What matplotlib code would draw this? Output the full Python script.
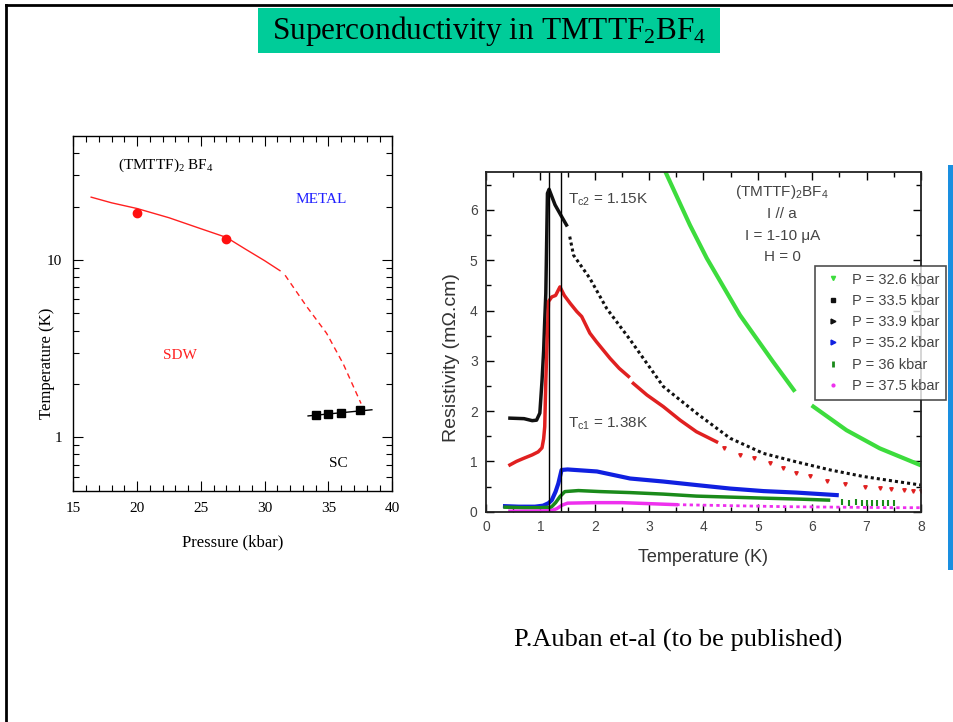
import numpy as np
import matplotlib
matplotlib.use('Agg')
import matplotlib.pyplot as plt
from matplotlib.patches import Rectangle
from matplotlib.lines import Line2D
from matplotlib.ticker import MultipleLocator, FixedLocator, NullFormatter, FixedFormatter

plt.rcParams['mathtext.fontset'] = 'custom'
plt.rcParams['mathtext.rm'] = 'Liberation Serif'
plt.rcParams['mathtext.it'] = 'Liberation Serif:italic'
plt.rcParams['mathtext.sf'] = 'Liberation Sans'

nan = np.nan

# --- phase diagram (TMTTF)2BF4 ---
sdw_P = [16.4, 18.0, 20.0, 22.5, 25.0, 27.0, 28.5, 30.0, 31.2]
sdw_T = [22.6, 21.0, 19.5, 17.3, 15.0, 13.4, 11.5, 9.9, 8.7]
sdw_dash_P = [31.6, 33.3, 34.85, 36.15, 37.55]
sdw_dash_T = [8.2, 5.45, 3.86, 2.6, 1.55]
sdw_pts_P = [20.0, 27.0]
sdw_pts_T = [18.5, 13.1]
sc_P = [34.0, 35.0, 36.0, 37.5]
sc_T = [1.33, 1.35, 1.37, 1.42]
sc_fit_P = [33.4, 38.4]
sc_fit_T = [1.32, 1.43]

# --- resistivity vs temperature ---
g326_T = [3.29, 3.75, 4.06, 4.67, 5.28, 5.66, nan, 6.02, 6.63, 7.24, 7.98]
g326_R = [6.78, 5.70, 5.04, 3.91, 2.98, 2.42, nan, 2.09, 1.62, 1.26, 0.93]

k335_T = [0.44, 0.70, 0.85, 0.93, 0.99, 1.03, 1.06, 1.08, 1.10, 1.13, 1.16, 1.27, 1.39, 1.48]
k335_R = [1.86, 1.85, 1.81, 1.82, 1.96, 2.6, 3.2, 3.8, 4.34, 6.33, 6.41, 6.10, 5.87, 5.70]
k335b_T = [1.54, 1.61, 1.91, 2.22, 2.65, 3.26, 3.87, 4.49, 5.10, 5.71, 6.33, 6.94, 7.55, 8.0]
k335b_R = [5.47, 5.10, 4.64, 4.04, 3.42, 2.49, 1.96, 1.46, 1.16, 0.99, 0.83, 0.70, 0.60, 0.53]

r339_T = [0.44, 0.56, 0.69, 0.85, 0.96, 1.03, 1.06, 1.08, 1.10, 1.13, 1.15, 1.21, 1.28, 1.36,
          1.44, 1.55, 1.67, 1.76, 1.91, 2.03, 2.28, 2.45, 2.62, nan, 2.71, 2.96, 3.26, 3.57, 3.87, 4.24]
r339_R = [0.93, 1.00, 1.06, 1.13, 1.19, 1.27, 1.45, 1.69, 2.6, 3.6, 4.18, 4.27, 4.30, 4.47,
          4.30, 4.14, 3.98, 3.88, 3.55, 3.38, 3.05, 2.85, 2.69, nan, 2.55, 2.32, 2.09, 1.82, 1.59, 1.39]
r339b_T = [4.37, 4.67, 4.92, 5.22, 5.47, 5.71, 5.96, 6.27, 6.60, 6.97, 7.25, 7.45, 7.68, 7.85, 8.0]
r339b_R = [1.26, 1.13, 1.06, 0.96, 0.86, 0.76, 0.70, 0.62, 0.56, 0.50, 0.48, 0.46, 0.43, 0.42, 0.41]

b352_T = [0.35, 0.6, 0.9, 1.05, 1.15, 1.21, 1.28, 1.33, 1.39, 1.5, 2.04, 2.65, 3.26, 3.87, 4.49, 5.10, 5.71, 6.45]
b352_R = [0.11, 0.10, 0.10, 0.12, 0.17, 0.23, 0.40, 0.56, 0.83, 0.84, 0.80, 0.66, 0.60, 0.53, 0.46, 0.41, 0.38, 0.33]

g36_T = [0.35, 0.7, 1.0, 1.2, 1.28, 1.36, 1.45, 1.7, 2.1, 2.65, 3.26, 3.87, 4.49, 5.10, 5.77, 6.3]
g36_R = [0.09, 0.08, 0.08, 0.09, 0.18, 0.30, 0.40, 0.42, 0.40, 0.38, 0.35, 0.31, 0.29, 0.27, 0.25, 0.23]
g36b_T = [6.55, 6.68, 6.8, 6.92, 7.0, 7.1, 7.2, 7.3, 7.4, 7.5]
g36b_R = [0.19, 0.18, 0.19, 0.18, 0.17, 0.18, 0.17, 0.17, 0.17, 0.17]

m375_T = [0.44, 0.8, 1.2, 1.3, 1.4, 1.5, 2.0, 2.5, 3.0, 3.5]
m375_R = [0.01, 0.01, 0.02, 0.06, 0.13, 0.17, 0.18, 0.18, 0.16, 0.14]
m375b_T = [3.5, 4.5, 5.5, 6.5, 7.5, 8.0]
m375b_R = [0.14, 0.12, 0.10, 0.09, 0.08, 0.08]

Tc2 = 1.15
Tc1 = 1.38
leg_labels = ['P = 32.6 kbar', 'P = 33.5 kbar', 'P = 33.9 kbar',
              'P = 35.2 kbar', 'P = 36 kbar', 'P = 37.5 kbar']

fig = plt.figure(figsize=(9.54, 7.22), dpi=100)
W, H = 954.0, 722.0

# slide frame and title banner
fig.add_artist(Line2D([6 / W, 1], [1 - 5 / H, 1 - 5 / H], transform=fig.transFigure, color='k', lw=2))
fig.add_artist(Line2D([6 / W, 6 / W], [0, 1 - 5 / H], transform=fig.transFigure, color='k', lw=2))
fig.add_artist(Rectangle((258 / W, 1 - 53 / H), 462 / W, 45 / H, transform=fig.transFigure,
                         facecolor='#00CC99', edgecolor='none'))
fig.text(489 / W, 1 - 31 / H, 'Superconductivity in TMTTF$_2$BF$_4$', ha='center', va='center',
         fontsize=22.5, family='Liberation Serif')
fig.add_artist(Rectangle((948 / W, 1 - 570 / H), 8 / W, 405 / H, transform=fig.transFigure,
                         facecolor='#1a8fe0', edgecolor='none', zorder=-1))
fig.text(678 / W, 1 - 640 / H, 'P.Auban et-al (to be published)', ha='center', va='center',
         fontsize=19, family='Liberation Serif')

# left panel: phase diagram
ax1 = fig.add_axes([73.3 / W, 1 - 490.7 / H, 319 / W, 354.7 / H])
ax1.plot(sdw_P, sdw_T, color='#ff2020', lw=1)
ax1.plot(sdw_dash_P, sdw_dash_T, color='#ff2020', lw=1, dashes=(4, 3))
ax1.plot(sdw_pts_P, sdw_pts_T, 'o', color='#ff1010', ms=6)
ax1.plot(sc_fit_P, sc_fit_T, color='k', lw=1)
ax1.plot(sc_P, sc_T, 's', color='k', ms=6)
ax1.set_yscale('log')
ax1.set_xlim(15, 40)
ax1.set_ylim(0.5, 50)
ax1.xaxis.set_major_locator(MultipleLocator(5))
ax1.xaxis.set_minor_locator(MultipleLocator(1))
ax1.yaxis.set_major_locator(FixedLocator([1, 10]))
ax1.yaxis.set_major_formatter(FixedFormatter(['1', '10']))
ax1.yaxis.set_minor_locator(FixedLocator([0.6, 0.7, 0.8, 0.9, 2, 3, 4, 5, 6, 7, 8, 9, 20, 30, 40]))
ax1.yaxis.set_minor_formatter(NullFormatter())
ax1.tick_params(which='both', direction='in', top=True, right=True, width=0.8,
                labelsize=11, pad=8)
ax1.tick_params(which='major', length=7)
ax1.tick_params(which='minor', length=4)
for lab in ax1.get_xticklabels() + ax1.get_yticklabels():
    lab.set_family('Liberation Serif')
for sp in ax1.spines.values():
    sp.set_linewidth(1)
ax1.set_xlabel('Pressure (kbar)', family='Liberation Serif', fontsize=12, labelpad=14)
fig.text(47 / W, 1 - 363 / H, 'Temperature (K)', rotation=90, ha='center', va='center',
         family='Liberation Serif', fontsize=12)
ax1.text(0.14, 0.918, '(TMTTF)$_2$ BF$_4$', transform=ax1.transAxes, ha='left', va='center',
         family='Liberation Serif', fontsize=11)
ax1.text(0.776, 0.82, 'METAL', transform=ax1.transAxes, ha='center', va='center',
         family='Liberation Serif', fontsize=11, color='#2020ff')
ax1.text(0.334, 0.382, 'SDW', transform=ax1.transAxes, ha='center', va='center',
         family='Liberation Serif', fontsize=11, color='#ff2020')
ax1.text(0.832, 0.078, 'SC', transform=ax1.transAxes, ha='center', va='center',
         family='Liberation Serif', fontsize=11, color='k')

# right panel: resistivity
ax2 = fig.add_axes([486 / W, 1 - 511.7 / H, 435 / W, 340 / H])
ax2.plot(g326_T, g326_R, color='#3ddc3d', lw=3)
ax2.plot(k335_T, k335_R, color='#111111', lw=2.5)
ax2.plot(k335b_T, k335b_R, color='#111111', lw=2.2, dashes=(1, 1))
ax2.plot(r339_T, r339_R, color='#e02020', lw=2.5)
ax2.plot(r339b_T, r339b_R, 'v', color='#e02020', ms=2.5)
ax2.plot(b352_T, b352_R, color='#1020e0', lw=3)
ax2.plot(g36_T, g36_R, color='#1a8a1a', lw=2.5)
ax2.plot(g36b_T, g36b_R, '|', color='#1a8a1a', ms=4, mew=1.5)
ax2.plot(m375_T, m375_R, color='#ee30ee', lw=2.5)
ax2.plot(m375b_T, m375b_R, color='#ee30ee', lw=2, dashes=(1.2, 1.2))
ax2.axvline(Tc2, color='k', lw=1)
ax2.axvline(Tc1, color='k', lw=1)
ax2.set_xlim(0, 8)
ax2.set_ylim(0, 6.76)
ax2.xaxis.set_major_locator(MultipleLocator(1))
ax2.xaxis.set_minor_locator(MultipleLocator(0.5))
ax2.yaxis.set_major_locator(MultipleLocator(1))
ax2.yaxis.set_minor_locator(MultipleLocator(0.5))
ax2.tick_params(which='both', direction='in', top=True, right=True, width=1,
                labelsize=10, labelcolor='#444444', pad=6)
ax2.tick_params(which='major', length=6)
ax2.tick_params(which='minor', length=3.5)
for lab in ax2.get_xticklabels() + ax2.get_yticklabels():
    lab.set_family('Liberation Sans')
for sp in ax2.spines.values():
    sp.set_linewidth(1.3)
    sp.set_color('#222222')
ax2.set_xlabel('Temperature (K)', family='Liberation Sans', fontsize=13, color='#333333', labelpad=11)
fig.text(452 / W, 1 - 358 / H, 'Resistivity (mΩ.cm)', rotation=90, ha='center', va='center',
         family='Liberation Sans', fontsize=14, color='#333333')

ax2.text(1.5, 6.2, r'$\mathsf{T_{c2}}$ = 1.15K', family='Liberation Sans', fontsize=11,
         color='#444444', ha='left', va='center')
ax2.text(1.5, 1.75, r'$\mathsf{T_{c1}}$ = 1.38K', family='Liberation Sans', fontsize=11,
         color='#444444', ha='left', va='center')
info = [r'(TMTTF)$\mathsf{_2}$BF$\mathsf{_4}$', 'I // a', 'I = 1-10 μA', 'H = 0']
for i, s in enumerate(info):
    ax2.text(5.45, 6.35 - 0.43 * i, s, family='Liberation Sans', fontsize=11,
             color='#444444', ha='center', va='center')

handles = [
    Line2D([], [], ls='none', marker='v', ms=3, color='#3ddc3d'),
    Line2D([], [], ls='none', marker='s', ms=2.5, color='#111111'),
    Line2D([], [], ls='none', marker='>', ms=3.5, color='#111111'),
    Line2D([], [], ls='none', marker='>', ms=3.5, color='#1020e0'),
    Line2D([], [], ls='none', marker='|', ms=5, mew=2, color='#1a8a1a'),
    Line2D([], [], ls='none', marker='.', ms=4, color='#ee30ee'),
]
leg = ax2.legend(handles, leg_labels, loc='upper left', bbox_to_anchor=(0.756, 0.7226),
                 frameon=True, fancybox=False, borderpad=0.45, handlelength=1.6,
                 handletextpad=0.5, labelspacing=0.5,
                 prop={'family': 'Liberation Sans', 'size': 10.5}, borderaxespad=0)
leg.get_frame().set_edgecolor('#222222')
leg.get_frame().set_linewidth(1.2)
for t in leg.get_texts():
    t.set_color('#444444')

fig.savefig('out.png', dpi=100)
